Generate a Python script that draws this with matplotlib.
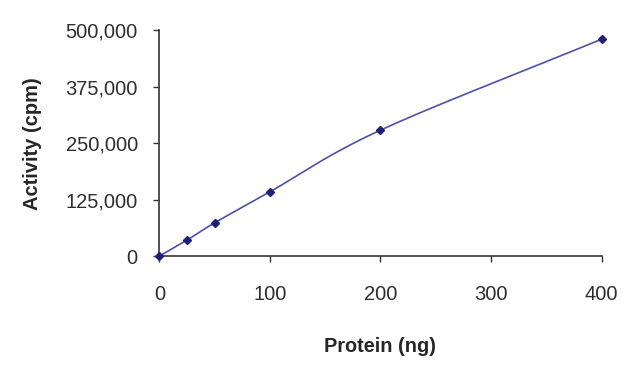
import numpy as np
import matplotlib
matplotlib.use("Agg")
import matplotlib.pyplot as plt
from matplotlib.ticker import FuncFormatter

protein_ng = [0, 25, 50, 100, 200, 400]
activity_cpm = [0, 35400, 73700, 142300, 278800, 480000]
x_ticks = [0, 100, 200, 300, 400]
y_ticks = [0, 125000, 250000, 375000, 500000]

plt.rcParams['font.family'] = ['Liberation Sans', 'DejaVu Sans']

def smooth(x, y, n=30):
    x = np.asarray(x, float); y = np.asarray(y, float)
    px = np.concatenate([[2*x[0]-x[1]], x, [2*x[-1]-x[-2]]])
    py = np.concatenate([[2*y[0]-y[1]], y, [2*y[-1]-y[-2]]])
    xs, ys = [], []
    t = np.linspace(0, 1, n)
    for i in range(1, len(px)-2):
        p0, p1, p2, p3 = [np.array([px[j], py[j]]) for j in (i-1, i, i+1, i+2)]
        c1 = p1 + (p2 - p0) / 6.0
        c2 = p2 - (p3 - p1) / 6.0
        pts = ((1-t)**3)[:, None]*p1 + (3*(1-t)**2*t)[:, None]*c1 + (3*(1-t)*t**2)[:, None]*c2 + (t**3)[:, None]*p2
        xs.append(pts[:, 0]); ys.append(pts[:, 1])
    return np.concatenate(xs), np.concatenate(ys)

fig = plt.figure(figsize=(6.4, 3.68), dpi=100)
ax = fig.add_axes([0.249, 0.304, 0.691, 0.614])

sx, sy = smooth(protein_ng, activity_cpm)
ax.plot(sx, sy, color='#4f4fa8', lw=1.2, zorder=2)
ax.plot(protein_ng, activity_cpm, linestyle='none', marker='D', ms=4.5,
        color='#1e1e7c', zorder=3, clip_on=False)

ax.set_xlim(0, 400)
ax.set_ylim(0, 500000)
ax.set_xticks(x_ticks)
ax.set_yticks(y_ticks)
ax.yaxis.set_major_formatter(FuncFormatter(lambda v, p: f"{int(v):,}"))

for s in ['top', 'right']:
    ax.spines[s].set_visible(False)
for s in ['left', 'bottom']:
    ax.spines[s].set_color('#333333')
    ax.spines[s].set_linewidth(1.2)
ax.tick_params(direction='out', length=4.5, width=1, colors='#333333',
               labelsize=14.5, labelcolor='#2e2e2e')
ax.tick_params(axis='y', pad=11)
ax.tick_params(axis='x', pad=16)

ax.set_xlabel('Protein (ng)', fontsize=14.3, fontweight='bold', color='#262626', labelpad=24)
ax.set_ylabel('Activity (cpm)', fontsize=14.5, fontweight='bold', color='#262626', labelpad=17)

fig.savefig('out.png', dpi=100)
